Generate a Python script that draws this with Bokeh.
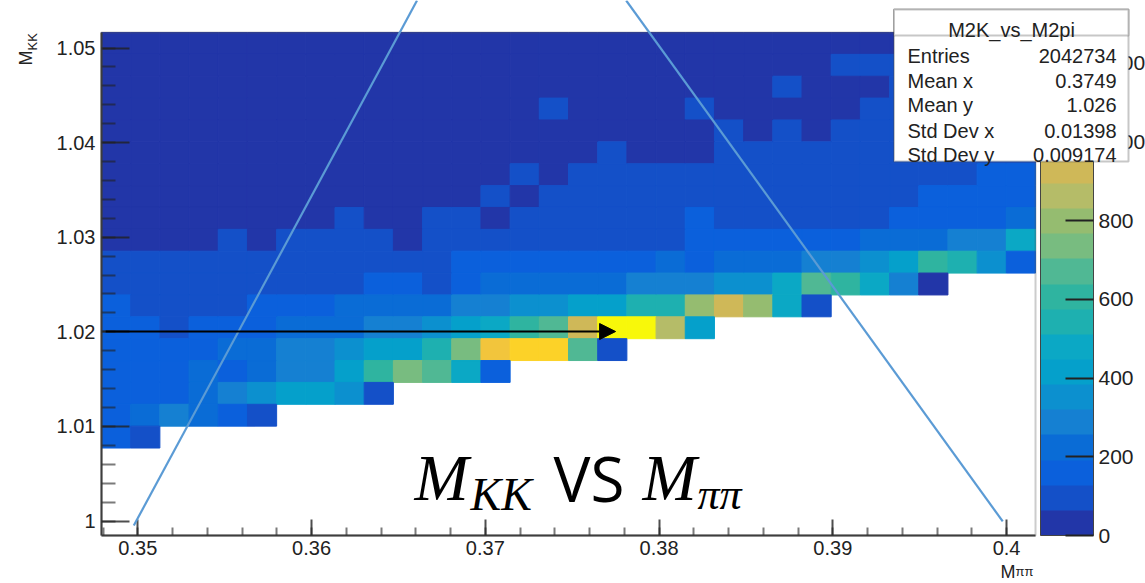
from bokeh.embed import file_html
from bokeh.resources import INLINE
from bokeh.plotting import figure
from bokeh.models import (ColumnDataSource, LinearColorMapper, ColorBar, FixedTicker, BasicTicker,
                          NumeralTickFormatter, Arrow, NormalHead, Label, BoxAnnotation)

# ---- data ----
entries_title = "M2K_vs_M2pi"
stat_names = ["Entries", "Mean x", "Mean y", "Std Dev x", "Std Dev y"]
stat_values = ["2042734", "0.3749", "1.026", "0.01398", "0.009174"]

x_low, x_high = 0.347911, 0.401667
y_low, y_high = 0.998467, 1.051638
z_high = 1278

palette = ["#2236A8", "#1450C8", "#0B60DC", "#0A6CD6", "#1580D2", "#0C90CF", "#05A0CB",
           "#0BA8C5", "#1EB0B0", "#2FB4A0", "#50B894", "#78BC80", "#95BC70", "#B5BC68",
           "#CFB858", "#F2C53C", "#FCD228", "#FBDD1E", "#F8EA14", "#F8F80A"]

# estimated counts per bin; rows from the top of the plot, columns from the left (absent = empty)
row_00 = [32,32,32,32,32,32,32,32,32,32,32,32,32,32,32,32,32,32,32,32,32,32,32,32,32,32,32,32,32,32,32,32]
row_01 = [32,32,32,32,32,32,32,32,32,32,32,32,32,32,32,32,32,32,32,32,32,32,32,32,32,96,96,96,96,96,96,96]
row_02 = [32,32,32,32,32,32,32,32,32,32,32,32,32,32,32,32,32,32,32,32,32,32,32,96,32,32,32,96,96,96,96,96]
row_03 = [32,32,32,32,32,32,32,32,32,32,32,32,32,32,32,96,32,32,32,32,96,32,32,32,32,32,96,96,96,96,96,96]
row_04 = [32,32,32,32,32,32,32,32,32,32,32,32,32,32,32,32,32,32,32,32,32,96,32,96,32,96,96,96,96,96,96,96]
row_05 = [32,32,32,32,32,32,32,32,32,32,32,32,32,32,32,32,32,96,32,32,32,96,96,96,96,96,96,96,96,96,96,96]
row_06 = [32,32,32,32,32,32,32,32,32,32,32,32,32,32,96,32,96,96,96,96,96,96,96,96,96,96,96,96,96,96,160,160]
row_07 = [32,32,32,32,32,32,32,32,32,32,32,32,32,96,32,96,96,96,96,96,96,96,96,96,96,96,96,96,160,160,160,160]
row_08 = [32,32,32,32,32,32,32,32,96,32,32,96,96,32,96,96,96,96,96,96,160,96,96,96,96,96,96,160,160,160,160,224]
row_09 = [32,32,32,32,96,32,96,96,96,96,32,96,96,96,96,96,96,96,96,96,160,160,160,160,160,160,224,224,224,288,288,480]
row_10 = [96,96,96,96,96,96,96,96,96,96,96,96,160,160,160,160,160,160,160,224,160,224,224,224,288,288,352,416,608,544,352,160]
row_11 = [96,96,96,96,96,96,96,96,96,160,160,96,160,224,224,224,224,224,288,288,288,352,352,480,672,608,480,288,32]
row_12 = [160,96,96,96,96,160,160,160,224,224,224,224,288,288,352,352,416,416,544,544,800,928,800,480,96]
row_13 = [160,160,96,160,160,160,224,224,224,288,288,352,416,480,608,672,928,1248,1248,864,416]
row_14 = [160,160,160,160,224,224,288,288,352,416,416,544,736,992,1056,1056,672,96]
row_15 = [160,160,160,224,160,224,288,288,416,608,736,672,480,160]
row_16 = [160,160,160,224,288,352,416,416,352,96]
row_17 = [160,224,288,224,160,96]
row_18 = [160,96]
rows = [row_00, row_01, row_02, row_03, row_04, row_05, row_06, row_07, row_08, row_09,
        row_10, row_11, row_12, row_13, row_14, row_15, row_16, row_17, row_18]
n_cols, n_rows = 32, 23

# annotation lines drawn over the histogram, in plot coordinates
left_line_x, left_line_y = [0.34977, 0.36607], [0.99952, 1.05502]
right_line_x, right_line_y = [0.39978, 0.37811], [0.99996, 1.05502]
arrow_x, arrow_y = [0.34815, 0.3775], [1.02003, 1.02003]

colorbar_ticks = [0, 200, 400, 600, 800, 1000, 1200]


# page pixel -> plot coordinates, for text placed by the author on the slide
def X(px):
    return 0.35 + (px - 137.3) / 17375


def Y(py):
    return 1.05 - (py - 47.5) / 9460


bw = (x_high - x_low) / n_cols
bh = (y_high - y_low) / n_rows
left, right, top, bottom, counts = [], [], [], [], []
for r, row in enumerate(rows):
    for c, v in enumerate(row):
        left.append(x_low + c * bw)
        right.append(x_low + (c + 1) * bw)
        top.append(y_high - r * bh)
        bottom.append(y_high - (r + 1) * bh)
        counts.append(v)
source = ColumnDataSource(dict(left=left, right=right, top=top, bottom=bottom, count=counts))

mapper = LinearColorMapper(palette=palette, low=0, high=z_high)

# the frame spans the whole page, so the stats box and slide lines may leave the axes area
p = figure(frame_width=1145, frame_height=583, min_border=0, x_range=(X(0), X(1145)),
           y_range=(Y(583), Y(0)), output_backend="svg", toolbar_location=None,
           background_fill_color="white", border_fill_color="white")
p.grid.visible = False
p.outline_line_color = None

p.quad(left="left", right="right", top="top", bottom="bottom", source=source,
       fill_color={"field": "count", "transform": mapper},
       line_color={"field": "count", "transform": mapper}, line_width=1)

p.add_layout(BoxAnnotation(left=x_low, right=x_high, top=y_high, bottom=y_low, fill_alpha=0,
                           line_color="#555555", line_width=2))

for ax, maj, mnr in ((p.xaxis[0], 16, 8), (p.yaxis[0], 28, 14)):
    ax.ticker = BasicTicker(desired_num_ticks=6, num_minor_ticks=5)
    ax.formatter = NumeralTickFormatter(format="0.[00]")
    ax.major_tick_in = maj
    ax.major_tick_out = 0
    ax.minor_tick_in = mnr
    ax.minor_tick_out = 0
    ax.axis_line_color = "#333333"
    ax.axis_line_width = 2
    ax.major_tick_line_color = "#222222"
    ax.major_tick_line_width = 2
    ax.major_tick_line_alpha = 0.8
    ax.minor_tick_line_color = "#222222"
    ax.minor_tick_line_width = 2
    ax.minor_tick_line_alpha = 0.6
    ax.major_label_text_font = "Liberation Sans"
    ax.major_label_text_color = "#222222"
p.xaxis[0].major_label_text_font_size = "20px"
p.yaxis[0].major_label_text_font_size = "20px"
p.xaxis[0].major_label_standoff = 5
p.yaxis[0].major_label_standoff = 6
p.xaxis[0].fixed_location = y_low
p.xaxis[0].bounds = (x_low, x_high)
p.yaxis[0].fixed_location = x_low
p.yaxis[0].bounds = (y_low, y_high)

cb = ColorBar(color_mapper=mapper, width=53, height=503, padding=0, margin=0, location=(1040, 48),
              ticker=FixedTicker(ticks=colorbar_ticks), major_label_text_font="Liberation Sans",
              major_label_text_font_size="21px", major_label_text_color="#222222",
              major_tick_in=28, major_tick_out=0, major_tick_line_color="#222222",
              major_tick_line_width=2, minor_tick_line_color=None, bar_line_color="#444444",
              bar_line_width=1, label_standoff=5, border_line_color=None,
              background_fill_color=None)
p.add_layout(cb, "center")

# light-blue triangle and black arrow
p.add_layout(Arrow(end=None, x_start=left_line_x[0], y_start=left_line_y[0], x_end=left_line_x[1],
                   y_end=left_line_y[1], line_color="#5B9BD5", line_width=2.2))
p.add_layout(Arrow(end=None, x_start=right_line_x[0], y_start=right_line_y[0], x_end=right_line_x[1],
                   y_end=right_line_y[1], line_color="#5B9BD5", line_width=2.2))
p.add_layout(Arrow(end=NormalHead(size=16, fill_color="black", line_color="black"),
                   x_start=arrow_x[0], y_start=arrow_y[0], x_end=arrow_x[1], y_end=arrow_y[1],
                   line_color="black", line_width=2))


def text(s, px, py, size, font="Liberation Sans", style="normal", align="left", angle=0.0,
         color="#222222"):
    p.add_layout(Label(x=X(px), y=Y(py), text=s, text_font=font, text_font_size=f"{size}px",
                       text_font_style=style, text_align=align, text_baseline="alphabetic",
                       angle=angle, text_color=color, level="overlay"))


# slide caption
text("M", 414, 477, 65, "Liberation Serif", "italic", color="black")
text("KK", 470, 494, 46, "Liberation Serif", "italic", color="black")
text("VS", 553, 477, 62, "Open Sans", color="black")
text("M", 642, 477, 65, "Liberation Serif", "italic", color="black")
text("\u03c0\u03c0", 697, 494, 44, "Liberation Serif", "italic", color="black")

# axis titles
text("M", 25, 65, 18, angle=1.5708)
text("KK", 32, 50, 13, angle=1.5708)
text("M", 1000, 571, 18)
text("\u03c0\u03c0", 1015, 571, 13)

# statistics box
p.add_layout(BoxAnnotation(left=X(893.5), right=X(1128), top=Y(9), bottom=Y(161), fill_color="white",
                           fill_alpha=1, line_color="#444444", line_width=2, level="overlay"))
p.add_layout(BoxAnnotation(left=X(893.5), right=X(1128), top=Y(9), bottom=Y(35), fill_color="white",
                           fill_alpha=1, line_color="#444444", line_width=2, level="overlay"))
text(entries_title, 1011, 29.5, 20, align="center")
stat_y = [55.5, 80, 104, 130.5, 154.5]
for name, val, sy in zip(stat_names, stat_values, stat_y):
    text(name, 907, sy, 20)
    text(val, 1116, sy, 20, align="right")

open("out.html", "w").write(file_html(p, INLINE))
